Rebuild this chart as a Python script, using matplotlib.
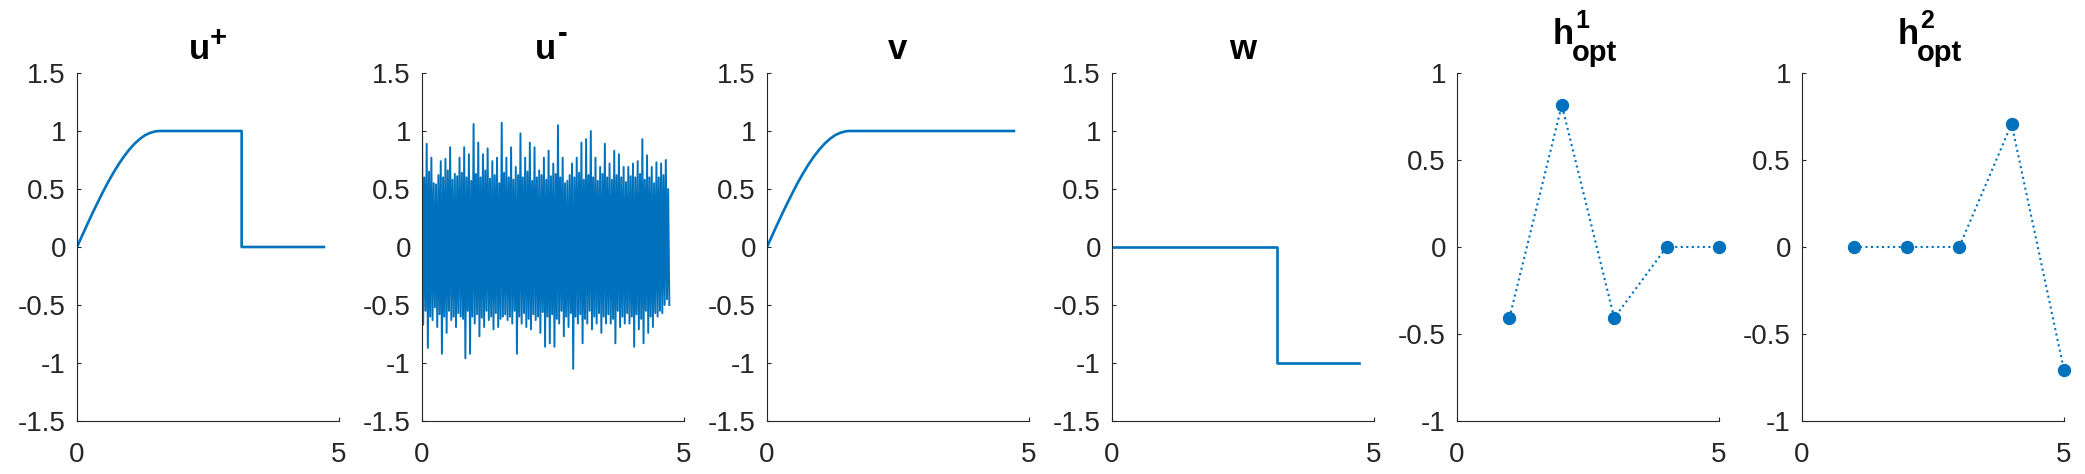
import numpy as np
import matplotlib
matplotlib.use('Agg')
import matplotlib.pyplot as plt
from matplotlib.transforms import offset_copy
from matplotlib.ticker import FuncFormatter

plt.rcParams['font.family'] = ['Liberation Sans', 'DejaVu Sans']
plt.rcParams['axes.unicode_minus'] = False

BLUE = '#0072BD'
DARK = '#262626'

# ---------------- data ----------------
# rising (sine-like) part shared by u+ and v
t_rise = [0.0, 0.1, 0.2, 0.3, 0.4, 0.5, 0.6, 0.7, 0.8, 0.9, 1.0,
          1.1, 1.2, 1.3, 1.4, 1.5, 1.571]
rise = [0.0, 0.10, 0.199, 0.296, 0.389, 0.479, 0.565, 0.644, 0.717, 0.783,
        0.841, 0.891, 0.932, 0.964, 0.985, 0.997, 1.0]
t_switch = 3.142
t_end = 4.712

# u- : noise, read as alternating upper / lower excursions
u_minus_peaks = [
    1.07, 0.60, 0.89, 0.65, 0.77, 0.55, 0.54, 0.62, 0.74, 0.60,
    0.76, 0.66, 0.86, 0.58, 0.63, 0.61, 0.77, 0.64, 0.86, 0.60,
    0.80, 0.57, 1.06, 0.63, 0.90, 0.60, 0.80, 0.66, 0.85, 0.59,
    0.74, 0.62, 0.77, 0.55, 1.07, 0.64, 0.77, 0.60, 0.86, 0.58,
    0.69, 0.62, 0.98, 0.60, 0.77, 0.65, 0.90, 0.57, 0.86, 0.60,
    0.66, 0.62, 0.77, 0.58, 0.83, 0.61, 0.72, 0.63, 1.05, 0.60,
    0.77, 0.55, 0.57, 0.62, 0.72, 0.60, 0.77, 0.64, 0.90, 0.58,
    0.93, 0.62, 1.00, 0.60, 0.77, 0.57, 0.69, 0.63, 0.89, 0.60,
    0.72, 0.58, 0.83, 0.62, 0.80, 0.60, 0.69, 0.56, 0.69, 0.61,
    0.72, 0.60, 0.74, 0.63, 0.93, 0.58, 0.79, 0.60, 0.69, 0.55,
    0.73, 0.60, 0.72, 0.62, 0.75, 0.50]
u_minus_troughs = [
    -0.67, -0.55, -0.87, -0.60, -0.63, -0.52, -0.69, -0.58, -0.92, -0.60,
    -0.74, -0.55, -0.63, -0.60, -0.69, -0.57, -0.60, -0.62, -0.96, -0.55,
    -0.92, -0.60, -0.66, -0.58, -0.77, -0.61, -0.69, -0.55, -0.63, -0.60,
    -0.71, -0.57, -0.69, -0.62, -0.60, -0.58, -0.63, -0.60, -0.66, -0.55,
    -0.92, -0.60, -0.66, -0.57, -0.69, -0.62, -0.71, -0.58, -0.63, -0.60,
    -0.74, -0.56, -0.86, -0.60, -0.83, -0.58, -0.86, -0.62, -0.66, -0.55,
    -0.77, -0.60, -0.69, -0.57, -1.05, -0.60, -0.66, -0.58, -0.83, -0.62,
    -0.66, -0.55, -0.71, -0.60, -0.66, -0.57, -0.74, -0.60, -0.66, -0.58,
    -0.66, -0.62, -0.83, -0.55, -0.69, -0.60, -0.66, -0.57, -0.66, -0.60,
    -0.86, -0.58, -0.71, -0.62, -0.83, -0.55, -0.74, -0.60, -0.69, -0.57,
    -0.60, -0.55, -0.57, -0.50, -0.45, -0.50]
u_minus_t_end = 4.72

h_index = [1, 2, 3, 4, 5]
h1_opt = [-0.408, 0.816, -0.408, 0.0, 0.0]
h2_opt = [0.0, 0.0, 0.0, 0.707, -0.707]

x_ticks = [0, 5]
y_ticks_sig = [-1.5, -1, -0.5, 0, 0.5, 1, 1.5]
y_ticks_h = [-1, -0.5, 0, 0.5, 1]

# ---------------- build series ----------------
u_plus_t = t_rise + [t_switch, t_switch, t_end]
u_plus_y = rise + [1.0, 0.0, 0.0]
v_t = t_rise + [t_end]
v_y = rise + [1.0]
w_t = [0.0, t_switch, t_switch, t_end]
w_y = [0.0, 0.0, -1.0, -1.0]
n = min(len(u_minus_peaks), len(u_minus_troughs))
u_minus_y = np.empty(2 * n)
u_minus_y[0::2] = u_minus_peaks[:n]
u_minus_y[1::2] = u_minus_troughs[:n]
u_minus_t = np.linspace(0, u_minus_t_end, 2 * n)

# ---------------- figure ----------------
W, H = 2085, 474
fig = plt.figure(figsize=(W / 100, H / 100), dpi=100)

ax_left0, ax_step, ax_w = 77, 345, 262
ax_bottom, ax_h = 474 - 421, 348

fmt = FuncFormatter(lambda v, p: '%g' % v)


def make_ax(i, ylim, yticks):
    ax = fig.add_axes([(ax_left0 + i * ax_step) / W, ax_bottom / H, ax_w / W, ax_h / H])
    ax.set_xlim(0, 5)
    ax.set_ylim(*ylim)
    ax.set_xticks(x_ticks)
    ax.set_yticks(yticks)
    ax.xaxis.set_major_formatter(fmt)
    ax.yaxis.set_major_formatter(fmt)
    for s in ['top', 'right']:
        ax.spines[s].set_visible(False)
    for s in ['left', 'bottom']:
        ax.spines[s].set_color(DARK)
        ax.spines[s].set_linewidth(0.8)
    ax.tick_params(axis='both', direction='in', length=2.8, width=0.8,
                   color=DARK, labelcolor=DARK, labelsize=20)
    ax.tick_params(axis='y', pad=8)
    ax.tick_params(axis='x', pad=15)
    return ax


def put(ax, s, dx, dy, fs, ha='left'):
    tr = offset_copy(ax.transAxes, fig=fig, x=dx, y=dy, units='dots')
    ax.text(0.5, 1.0, s, transform=tr, fontsize=fs, fontweight='bold',
            ha=ha, va='baseline', color='black', clip_on=False)


BASE = 25
# u+
ax = make_ax(0, (-1.5, 1.5), y_ticks_sig)
ax.plot(u_plus_t, u_plus_y, color=BLUE, lw=1.9)
put(ax, 'u', -19.5, 13.7, BASE)
put(ax, '+', 1.5, 26.5, 21)

# u-
ax = make_ax(1, (-1.5, 1.5), y_ticks_sig)
ax.plot(u_minus_t, u_minus_y, color=BLUE, lw=1.4)
put(ax, 'u', -18, 13.7, BASE)
put(ax, '-', 5, 31, 21)

# v
ax = make_ax(2, (-1.5, 1.5), y_ticks_sig)
ax.plot(v_t, v_y, color=BLUE, lw=1.9)
put(ax, 'v', 0, 13.7, BASE, ha='center')

# w
ax = make_ax(3, (-1.5, 1.5), y_ticks_sig)
ax.plot(w_t, w_y, color=BLUE, lw=1.9)
put(ax, 'w', 0, 13.7, BASE, ha='center')

# h1_opt, h2_opt
for i, (vals, sup) in enumerate([(h1_opt, '1'), (h2_opt, '2')]):
    ax = make_ax(4 + i, (-1, 1), y_ticks_h)
    ax.plot(h_index, vals, color=BLUE, lw=1.5, ls=':', marker='o',
            markersize=8.6, markerfacecolor=BLUE, markeredgecolor=BLUE, clip_on=False)
    put(ax, 'h', -35.5, 29, BASE)
    put(ax, sup, -13, 44.7, 18)
    put(ax, 'opt', -16, 12, 21)

fig.savefig('out.png', dpi=100)
